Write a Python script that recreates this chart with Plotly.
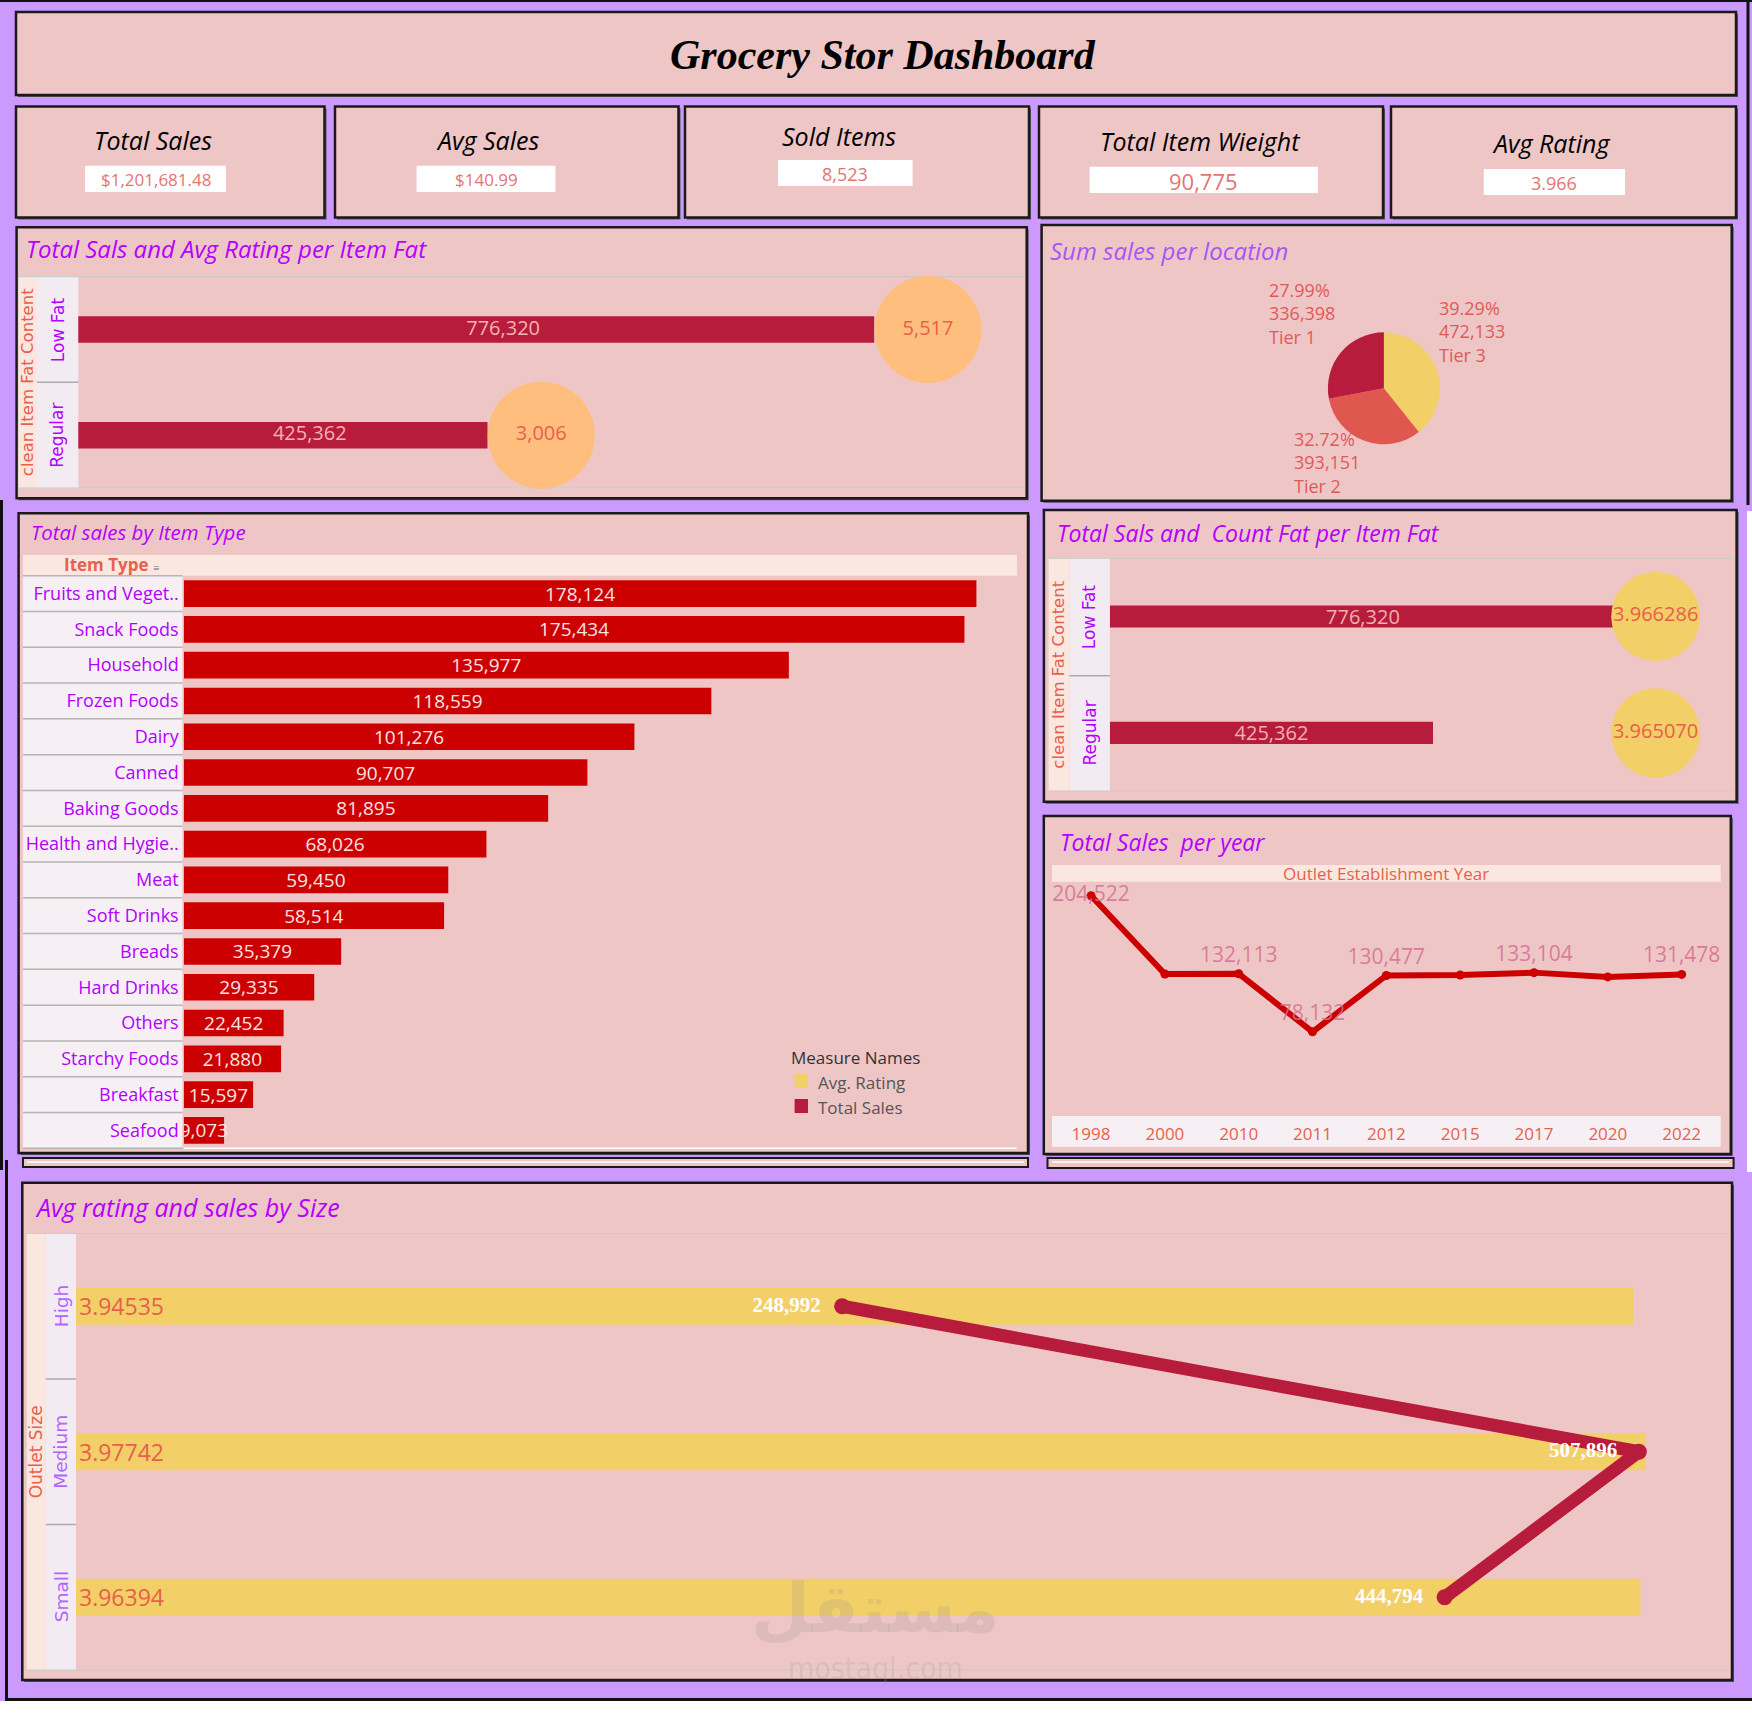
import plotly.graph_objects as go

W, H = 1752, 1720


def X(p):
    return p / W


def Y(p):
    return 1 - p / H


# ---------------- data ----------------
kpi_titles = ["Total Sales", "Avg Sales", "Sold Items", "Total Item Wieight", "Avg Rating"]
kpi_values = ["$1,201,681.48", "$140.99", "8,523", "90,775", "3.966"]

fat_cats = ["Low Fat", "Regular"]
fat_sales = [776320, 425362]
fat_counts = [5517, 3006]
fat_rating = [3.966286, 3.965070]

tiers = ["Tier 3", "Tier 2", "Tier 1"]
tier_sales = [472133, 393151, 336398]

item_types = ["Fruits and Veget..", "Snack Foods", "Household", "Frozen Foods", "Dairy",
              "Canned", "Baking Goods", "Health and Hygie..", "Meat", "Soft Drinks",
              "Breads", "Hard Drinks", "Others", "Starchy Foods", "Breakfast", "Seafood"]
item_sales = [178124, 175434, 135977, 118559, 101276, 90707, 81895, 68026, 59450,
              58514, 35379, 29335, 22452, 21880, 15597, 9073]

years = ["1998", "2000", "2010", "2011", "2012", "2015", "2017", "2020", "2022"]
year_sales = [204522, 131809, 132113, 78132, 130477, 130943, 133104, 129104, 131478]
year_label_shown = [True, False, True, True, True, False, True, False, True]

sizes = ["High", "Medium", "Small"]
size_rating = [3.94535, 3.97742, 3.96394]
size_sales = [248992, 507896, 444794]

# ---------------- styles ----------------
LAV = "#CC99FF"
PINK = "#EFC6C6"
CRIMSON = "#B71C3C"
RED = "#CC0000"
YELLOW = "#F2CF67"
ORANGE = "#FFBE7D"
TIER2 = "#E0574F"
SALMON = "#E8604C"
PURPLE = "#B400FF"
HDR_OUT = "#F9E7E0"
HDR_IN = "#F3EBF2"
GRIDC = "#CBCBCB"
FONT = "Open Sans"
WIDE = "DejaVu Sans"

shapes = []
annotations = []


def rect(x0, y0, x1, y1, fill, line=None, lw=0, layer="below"):
    shapes.append(dict(type="rect", xref="paper", yref="paper", x0=X(x0), x1=X(x1),
                       y0=Y(y0), y1=Y(y1), fillcolor=fill, layer=layer,
                       line=dict(color=line if line else "rgba(0,0,0,0)", width=lw)))


def hline(x0, x1, y, color=GRIDC, w=1, layer="below"):
    shapes.append(dict(type="line", xref="paper", yref="paper", x0=X(x0), x1=X(x1),
                       y0=Y(y), y1=Y(y), line=dict(color=color, width=w), layer=layer))


def vline(x, y0, y1, color="#111", w=3, layer="above"):
    shapes.append(dict(type="line", xref="paper", yref="paper", x0=X(x), x1=X(x),
                       y0=Y(y0), y1=Y(y1), line=dict(color=color, width=w), layer=layer))


def ann(text, x, y, size, color, xanchor="center", yanchor="middle", family=FONT,
        style="normal", weight="normal", angle=0, align="center"):
    annotations.append(dict(text=text, x=X(x), y=Y(y), xref="paper", yref="paper",
                            showarrow=False, xanchor=xanchor, yanchor=yanchor,
                            textangle=angle, align=align,
                            font=dict(size=size, color=color, family=family,
                                      style=style, weight=weight)))


def panel(x0, y0, x1, y1):
    rect(x0 + 2, y0 + 2, x1 + 2, y1 + 2, "#555")
    rect(x0, y0, x1, y1, PINK, "#1a1a1a", 2.5)


# ---------------- frame ----------------
hline(0, W, 1, "#111", 2, "above")
vline(1.5, 500, 1170, "#111", 3)
vline(6.5, 1160, 1700, "#111", 3)
hline(5, W, 1699.5, "#111", 3, "above")
rect(0, 1701, W, H, "white", layer="above")
vline(1748, 0, 505, "#111", 3)
rect(1747, 511, W, 1172, "white", layer="above")

# ---------------- title + KPI ----------------
panel(16, 12, 1736, 95)
ann("Grocery Stor Dashboard", 883, 55, 42, "#000", family="Liberation Serif",
    style="italic", weight="bold")

kpi_boxes = [(16, 324.5), (335, 678.5), (685, 1029), (1039, 1383), (1391, 1736)]
kpi_title_pos = [(153.4, 140), (487, 140), (838.7, 136), (1200, 141), (1551, 143)]
kpi_val_box = [(85, 226, 165.7, 192), (416.6, 555.4, 165.7, 192), (778, 912.6, 160, 186),
               (1089.6, 1318, 166.7, 193), (1483.8, 1625, 169, 195)]
kpi_val_size = [17, 17, 18, 22, 18]
for i, (x0, x1) in enumerate(kpi_boxes):
    panel(x0, 106.5, x1, 217.5)
    tx, ty = kpi_title_pos[i]
    ann(kpi_titles[i], tx, ty, 25, "#000", style="italic")
    bx0, bx1, by0, by1 = kpi_val_box[i]
    rect(bx0, by0, bx1, by1, "white")
    ann(kpi_values[i], (bx0 + bx1) / 2, (by0 + by1) / 2 + 1, kpi_val_size[i], "#E57373")

# ---------------- panels ----------------
panel(16.6, 227.3, 1026.7, 498.3)     # fat chart 1
panel(1041.6, 225, 1731.7, 500.7)     # pie
panel(18.6, 513.3, 1028, 1153)        # item type
panel(1043.9, 510, 1736.6, 801.7)     # fat chart 2
panel(1043.8, 816, 1730.8, 1154)      # year
panel(22.3, 1182.7, 1732, 1680)       # size
rect(23, 1158, 1028, 1167, PINK, "#1a1a1a", 2)
hline(27, 1024, 1162, "white", 1.5)
rect(1047.5, 1158, 1733.6, 1168, PINK, "#1a1a1a", 2)
hline(1052, 1729, 1162, "white", 1.5)

fig = go.Figure()


def axis(domain, **kw):
    d = dict(domain=domain, showgrid=False, zeroline=False, showticklabels=False,
             ticks="", showline=False, fixedrange=True)
    d.update(kw)
    return d


layout_axes = {}

# ============ Chart 1: Total sales & count per item fat ============
c1 = dict(l=78.3, r=1024.7, t=276.7, b=488)
rect(18.6, c1["t"], 37, c1["b"], HDR_OUT)
rect(37, c1["t"], c1["l"], c1["b"], HDR_IN)
hline(18.6, c1["r"], c1["t"])
hline(18.6, c1["r"], c1["b"])
hline(37, c1["l"], (c1["t"] + c1["b"]) / 2, "#AAAAAA", 1.5)
ann("clean Item Fat Content", 27.8, (c1["t"] + c1["b"]) / 2, 16.5, SALMON, family=WIDE, angle=-90)
row_h1 = (c1["b"] - c1["t"]) / 2
for i, c in enumerate(fat_cats):
    ann(c, 57.6, c1["t"] + row_h1 * (i + 0.5), 17, PURPLE, family=WIDE, angle=-90)
ann("Total Sals and Avg Rating per Item Fat", 24, 249, 24, PURPLE, xanchor="left", style="italic")

fig.add_trace(go.Bar(x=fat_sales, y=fat_cats, orientation="h", xaxis="x", yaxis="y",
                     marker=dict(color=CRIMSON, line=dict(width=0)), width=0.25,
                     showlegend=False, hoverinfo="skip"))
# bar value labels (Tableau places them on the shared dual-axis midpoint)
fig.add_trace(go.Scatter(x=[c / 2 for c in fat_counts], y=fat_cats, xaxis="x2", yaxis="y",
                         mode="text", text=[f"{v:,}" for v in fat_sales],
                         textposition="middle center",
                         textfont=dict(color="#F4B3B3", size=20, family=FONT),
                         cliponaxis=False, showlegend=False, hoverinfo="skip"))
fig.add_trace(go.Scatter(x=fat_counts, y=fat_cats, xaxis="x2", yaxis="y", mode="markers+text",
                         marker=dict(size=107, color=ORANGE, line=dict(width=0)),
                         text=[f"{v:,}" for v in fat_counts], textposition="middle center",
                         textfont=dict(color=SALMON, size=20, family=FONT),
                         cliponaxis=False, showlegend=False, hoverinfo="skip"))
layout_axes["xaxis"] = axis([X(c1["l"]), X(c1["r"])], range=[54000, 912900], anchor="y")
layout_axes["xaxis2"] = axis([X(c1["l"]), X(c1["r"])], range=[0, 6145], overlaying="x", anchor="y")
layout_axes["yaxis"] = axis([Y(c1["b"]), Y(c1["t"])], type="category", categoryorder="array",
                            categoryarray=fat_cats, range=[1.5, -0.5], anchor="x")

# ============ Pie ============
pie_cx, pie_cy, pie_r = 1383.9, 388.3, 56
fig.add_trace(go.Pie(labels=tiers, values=tier_sales, sort=False, direction="clockwise",
                     rotation=0, marker=dict(colors=[YELLOW, TIER2, CRIMSON], line=dict(width=0)),
                     textinfo="none", showlegend=False, hoverinfo="skip",
                     domain=dict(x=[X(pie_cx - pie_r), X(pie_cx + pie_r)],
                                 y=[Y(pie_cy + pie_r), Y(pie_cy - pie_r)])))
ann("Sum sales per location", 1047.5, 250, 24, "#A855F7", xanchor="left", style="italic")
tot = sum(tier_sales)
pie_label_pos = {"Tier 1": (1266.5, 313.5), "Tier 3": (1436.5, 331.5), "Tier 2": (1292, 462.5)}
for t, v in zip(tiers, tier_sales):
    px_, py_ = pie_label_pos[t]
    ann(f"{v / tot * 100:.2f}%<br>{v:,}<br>{t}", px_, py_, 18, "#E05A5A", xanchor="left",
        align="left")

# ============ Item type chart ============
c3 = dict(l=183.7, r=1016.8, t=575.7, b=1148.3)
rect(23, 555, 1017, c3["t"], "#FAE8E0")
rect(23, c3["t"], 182.4, c3["b"], "#F6EFF3")
ann("Item Type", 106, 565, 17, SALMON, weight="bold")
ann("≡", 156, 567, 11, "#666")
for i in range(len(item_types) - 1):
    shapes.append(dict(type="line", xref="paper", yref="y3", x0=X(23), x1=X(182.4),
                       y0=i + 0.5, y1=i + 0.5, line=dict(color="#B5B5B5", width=1.5),
                       layer="below"))
hline(23, 182.4, c3["t"], "#B5B5B5", 1.5)
hline(23, 182.4, c3["b"], "#B5B5B5", 1.5)
hline(c3["l"], c3["r"], c3["b"], "white", 1.5)
ann("Total sales by Item Type", 28.5, 531.7, 20.5, PURPLE, xanchor="left", style="italic")

fig.add_trace(go.Bar(x=item_sales, y=item_types, orientation="h", xaxis="x3", yaxis="y3",
                     marker=dict(color=RED, line=dict(width=0)), width=0.745,
                     text=[f"{v:,}" for v in item_sales], textposition="inside",
                     insidetextanchor="middle", constraintext="none",
                     textfont=dict(color="#FBE3E3", size=19, family=FONT),
                     showlegend=False, hoverinfo="skip"))
layout_axes["xaxis3"] = axis([X(c3["l"]), X(c3["r"])], range=[0, 187200], anchor="y3")
layout_axes["yaxis3"] = axis([Y(c3["b"]), Y(c3["t"])], type="category", categoryorder="array",
                             categoryarray=item_types, range=[len(item_types) - 0.5, -0.5],
                             anchor="x3", showticklabels=True, ticklabelstandoff=4,
                             tickfont=dict(size=18, color=PURPLE, family=FONT))
# legend
ann("Measure Names", 789, 1057, 17, "#333", xanchor="left")
rect(794.6, 1074, 808, 1088, YELLOW)
ann("Avg. Rating", 816, 1082, 17, "#555", xanchor="left")
rect(794.6, 1099, 808, 1113, CRIMSON)
ann("Total Sales", 816, 1107, 17, "#555", xanchor="left")

# ============ Chart 2: total sales & avg rating per fat ============
c4 = dict(l=1109.9, r=1733.3, t=558.3, b=791)
rect(1048.6, c4["t"], 1069.5, c4["b"], HDR_OUT)
rect(1069.5, c4["t"], c4["l"], c4["b"], HDR_IN)
hline(1048.6, c4["r"], c4["t"])
hline(1048.6, c4["r"], c4["b"])
hline(1069.5, c4["l"], 675.7, "#AAAAAA", 1.5)
ann("clean Item Fat Content", 1059, (c4["t"] + c4["b"]) / 2, 16.5, SALMON, family=WIDE, angle=-90)
row_h4 = (c4["b"] - c4["t"]) / 2
for i, c in enumerate(fat_cats):
    ann(c, 1089.7, c4["t"] + row_h4 * (i + 0.5), 17, PURPLE, family=WIDE, angle=-90)
ann("Total Sals and  Count Fat per Item Fat", 1054.5, 533.3, 23, PURPLE, xanchor="left",
    style="italic")
X4_RANGE = [-194500, 1001500]
fig.add_trace(go.Bar(x=[v - X4_RANGE[0] for v in fat_sales], base=X4_RANGE[0], y=fat_cats,
                     orientation="h", xaxis="x4", yaxis="y4",
                     marker=dict(color=CRIMSON, line=dict(width=0)), width=0.19,
                     text=[f"{v:,}" for v in fat_sales], textposition="inside",
                     insidetextanchor="middle", constraintext="none",
                     textfont=dict(color="#F0B0B0", size=20, family=FONT),
                     showlegend=False, hoverinfo="skip"))
fig.add_trace(go.Scatter(x=fat_rating, y=fat_cats, xaxis="x5", yaxis="y4", mode="markers+text",
                         marker=dict(size=89, color=YELLOW, line=dict(width=0)),
                         text=[f"{v:.6f}" for v in fat_rating], textposition="middle center",
                         textfont=dict(color=SALMON, size=20, family=FONT),
                         cliponaxis=False, showlegend=False, hoverinfo="skip"))
layout_axes["xaxis4"] = axis([X(c4["l"]), X(c4["r"])], range=X4_RANGE, anchor="y4")
layout_axes["xaxis5"] = axis([X(c4["l"]), X(c4["r"])], range=[0, 4.53], overlaying="x4",
                             anchor="y4")
layout_axes["yaxis4"] = axis([Y(c4["b"]), Y(c4["t"])], type="category", categoryorder="array",
                             categoryarray=fat_cats, range=[1.5, -0.5], anchor="x4")

# ============ Year chart ============
c6 = dict(l=1052, r=1720.7, t=881.7, b=1116)
rect(1052, 865, 1720.7, c6["t"], "#FAE8E0")
rect(1052, c6["b"], 1720.7, 1146.7, "#F6EFF3")
ann("Outlet Establishment Year", 1386, 874, 17, SALMON)
ann("Total Sales  per year", 1057.5, 841.7, 23, PURPLE, xanchor="left", style="italic")
fig.add_trace(go.Scatter(x=years, y=year_sales, xaxis="x6", yaxis="y6", mode="lines+markers+text",
                         line=dict(color=RED, width=6), marker=dict(size=9, color=RED),
                         text=[f"{v:,}" if s else "" for v, s in zip(year_sales, year_label_shown)],
                         textposition=["middle center"] + ["top center"] * (len(years) - 1),
                         textfont=dict(color="rgba(214,110,145,0.85)", size=21, family=FONT),
                         cliponaxis=False, showlegend=False, hoverinfo="skip"))
layout_axes["xaxis6"] = axis([X(c6["l"]), X(c6["r"])], type="category", anchor="y6",
                             showticklabels=True, ticklabelstandoff=6,
                             tickfont=dict(size=17, color=SALMON, family=FONT))
layout_axes["yaxis6"] = axis([Y(c6["b"]), Y(c6["t"])], range=[0, 217520], anchor="x6")

# ============ Size chart ============
c7 = dict(l=76, r=1729.6, t=1233.5, b=1670)
rect(26.8, c7["t"], 45.8, c7["b"], HDR_OUT)
rect(45.8, c7["t"], c7["l"], c7["b"], HDR_IN)
hline(26.8, c7["r"], c7["t"])
hline(26.8, c7["r"], c7["b"])
row_h7 = (c7["b"] - c7["t"]) / 3
for k in (1, 2):
    hline(45.8, c7["l"], c7["t"] + row_h7 * k, "#AAAAAA", 1.5)
ann("Outlet Size", 36.3, 1452, 17, SALMON, family=WIDE, angle=-90)
for i, s in enumerate(sizes):
    ann(s, 61, c7["t"] + row_h7 * (i + 0.5), 18.5, "#B266FF", family=WIDE, angle=-90)
ann("Avg rating and sales by Size", 32.5, 1206.7, 25, PURPLE, xanchor="left", style="italic")
# watermark
ann("مستقل", 875, 1608, 68, "rgba(160,150,150,0.22)", family="DejaVu Sans", weight="bold")
ann("mostaql.com", 875, 1668, 30, "rgba(160,150,150,0.22)", family="DejaVu Sans Condensed")

fig.add_trace(go.Bar(x=size_rating, y=sizes, orientation="h", xaxis="x7", yaxis="y7",
                     marker=dict(color=YELLOW, line=dict(width=0)), width=0.254,
                     text=[f"{v:.5f}" for v in size_rating], textposition="inside",
                     insidetextanchor="start", constraintext="none",
                     textfont=dict(color=SALMON, size=23, family=FONT),
                     showlegend=False, hoverinfo="skip"))
fig.add_trace(go.Scatter(x=size_sales, y=sizes, xaxis="x8", yaxis="y7", mode="lines+markers+text",
                         line=dict(color=CRIMSON, width=13), marker=dict(size=16, color=CRIMSON),
                         text=[f"{v:,}  " for v in size_sales], textposition="middle left",
                         textfont=dict(color="white", size=21, family="Liberation Serif",
                                       weight="bold"),
                         cliponaxis=False, showlegend=False, hoverinfo="skip"))
layout_axes["xaxis7"] = axis([X(c7["l"]), X(c7["r"])], range=[0, 4.19], anchor="y7")
layout_axes["xaxis8"] = axis([X(c7["l"]), X(c7["r"])], range=[0, 537400], overlaying="x7",
                             anchor="y7")
layout_axes["yaxis7"] = axis([Y(c7["b"]), Y(c7["t"])], type="category", categoryorder="array",
                             categoryarray=sizes, range=[2.5, -0.5], anchor="x7")

fig.update_layout(width=W, height=H, margin=dict(l=0, r=0, t=0, b=0),
                  paper_bgcolor=LAV, plot_bgcolor="rgba(0,0,0,0)",
                  shapes=shapes, annotations=annotations, showlegend=False,
                  font=dict(family=FONT), **layout_axes)

fig.write_html("out.html", config={"displayModeBar": False})
